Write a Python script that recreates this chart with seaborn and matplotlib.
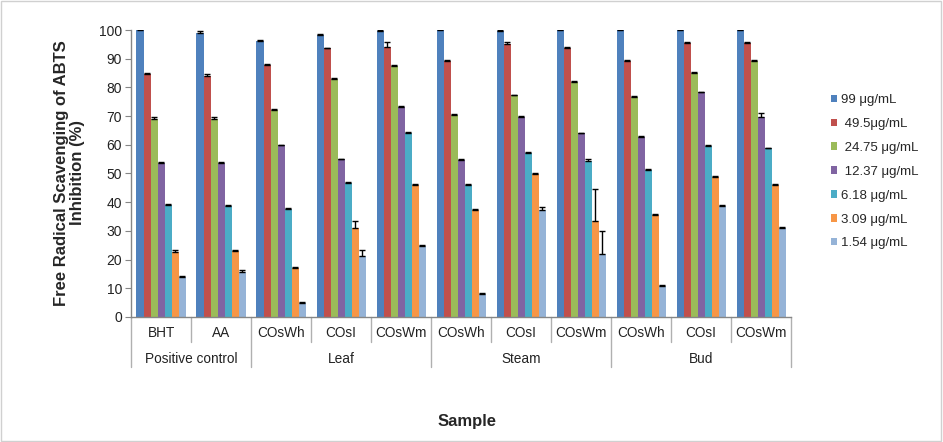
import pandas as pd
import matplotlib
matplotlib.use('Agg')
import matplotlib.pyplot as plt
import seaborn as sns
from matplotlib.patches import Rectangle

# sample labels (level 1) and their groups (level 2)
samples = ["BHT", "AA", "COsWh", "COsI", "COsWm", "COsWh", "COsI", "COsWm", "COsWh", "COsI", "COsWm"]
groups = ["Positive control", "Positive control", "Leaf", "Leaf", "Leaf",
          "Steam", "Steam", "Steam", "Bud", "Bud", "Bud"]
group_names = ["Positive control", "Leaf", "Steam", "Bud"]

concentrations = ["99 μg/mL", " 49.5μg/mL", " 24.75 μg/mL", " 12.37 μg/mL",
                  "6.18 μg/mL", "3.09 μg/mL", "1.54 μg/mL"]

# inhibition (%) per concentration, one value per sample
c99 = [100, 98.8, 96.3, 98.3, 99.6, 100, 99.8, 100, 100, 100, 100]
c49 = [84.6, 84.1, 87.8, 93.6, 94.2, 89.2, 95.1, 93.6, 89.2, 95.6, 95.6]
c24 = [69.0, 69.0, 72.1, 83.1, 87.6, 70.3, 77.2, 81.9, 76.7, 84.9, 89.1]
c12 = [53.8, 53.6, 59.8, 54.9, 73.3, 54.7, 69.7, 64.0, 62.8, 78.3, 69.8]
c6 = [38.9, 38.8, 37.5, 46.8, 64.2, 45.9, 57.0, 54.4, 51.2, 59.6, 58.8]
c3 = [22.8, 23.0, 17.0, 30.9, 46.1, 37.4, 49.7, 33.6, 35.5, 48.8, 45.9]
c1 = [13.8, 15.8, 5.0, 21.2, 24.8, 7.9, 37.3, 21.8, 10.8, 38.7, 31.0]

# upper error bars
e99 = [0.3, 1.0, 0.3, 0.4, 0.4, 0.2, 0.3, 0.2, 0.2, 0.6, 0.2]
e49 = [0.3, 0.5, 0.3, 0.3, 1.6, 0.3, 0.8, 0.4, 0.3, 0.3, 0.3]
e24 = [0.6, 0.6, 0.3, 0.2, 0.3, 0.3, 0.2, 0.2, 0.4, 0.4, 0.4]
e12 = [0.3, 0.3, 0.2, 0.3, 0.3, 0.3, 0.4, 0.2, 0.2, 0.2, 1.2]
e6 = [0.3, 0.3, 0.3, 0.2, 0.2, 0.3, 0.5, 0.6, 0.3, 0.2, 0.2]
e3 = [0.5, 0.4, 0.5, 2.6, 0.3, 0.3, 0.4, 10.9, 0.3, 0.3, 0.3]
e1 = [0.5, 0.4, 0.2, 2.1, 0.2, 0.3, 0.9, 8.3, 0.3, 0.2, 0.2]

values = [c99, c49, c24, c12, c6, c3, c1]
errors = [e99, e49, e24, e12, e6, e3, e1]
colors = ["#4F81BD", "#C0504D", "#9BBB59", "#8064A2", "#4BACC6", "#F79646", "#95B3D7"]

keys = [f"{g} {s}" for g, s in zip(groups, samples)]
rows = []
for conc, vals in zip(concentrations, values):
    for k, v in zip(keys, vals):
        rows.append({"key": k, "conc": conc, "value": v})
df = pd.DataFrame(rows)

sns.set_style("white")
plt.rcParams['font.family'] = ['Liberation Sans', 'DejaVu Sans']

fig = plt.figure(figsize=(9.43, 4.42), dpi=100)
ax = fig.add_axes([0.139, 0.283, 0.700, 0.649])

sns.barplot(data=df, x="key", y="value", hue="conc", order=keys, hue_order=concentrations,
            palette=colors, saturation=1, width=0.82, errorbar=None, ax=ax, linewidth=0)

for cont, err in zip(ax.containers, errors):
    xs = [p.get_x() + p.get_width() / 2 for p in cont.patches]
    hs = [p.get_height() for p in cont.patches]
    ax.errorbar(xs, hs, yerr=[[0] * len(err), err], fmt='none', ecolor='black',
                elinewidth=1, capsize=2.2, capthick=1)

ax.set_xlim(-0.5, len(keys) - 0.5)
ax.set_ylim(0, 100)
ax.set_yticks(range(0, 101, 10))
ax.tick_params(axis='y', labelsize=10, length=4, color='#868686', left=True, pad=2.5,
               labelcolor='#222222')
ax.set_xticks([])
ax.set_xlabel("")
ax.set_ylabel("")
for s in ["top", "right"]:
    ax.spines[s].set_visible(False)
for s in ["left", "bottom"]:
    ax.spines[s].set_color('#868686')
    ax.spines[s].set_linewidth(1)

# two-level category axis
trans = ax.get_xaxis_transform()
line_kw = dict(color='#b0b0b0', lw=1, transform=trans, clip_on=False)
for i in range(len(keys) + 1):
    x = i - 0.5
    long_line = i == 0 or i == len(keys) or groups[i] != groups[i - 1]
    ax.plot([x, x], [0, -0.173 if long_line else -0.086], **line_kw)
for i, s in enumerate(samples):
    ax.text(i, -0.056, s, transform=trans, ha='center', va='center', fontsize=9.8,
            color='#222222')
for g in group_names:
    idx = [i for i, gg in enumerate(groups) if gg == g]
    ax.text(sum(idx) / len(idx), -0.146, g, transform=trans, ha='center', va='center',
            fontsize=9.8, color='#222222')

fig.text(0.074, 0.609, "Free Radical Scavenging of ABTS\nInhibition (%)", rotation=90,
         ha='center', va='center', fontsize=12, fontweight='bold', linespacing=1.08)
fig.text(0.495, 0.046, "Sample", ha='center', va='center', fontsize=12, fontweight='bold')

handles, labels = ax.get_legend_handles_labels()
ax.get_legend().remove()
fig.legend(handles, labels, loc='upper left', bbox_to_anchor=(0.881, 0.787), frameon=False,
           fontsize=9.5, handlelength=0.5, handleheight=0.5, handletextpad=0.3,
           labelspacing=0.9, borderpad=0, borderaxespad=0)

fig.patches.append(Rectangle((0.001, 0.002), 0.997, 0.996, transform=fig.transFigure,
                             fill=False, edgecolor='#d0d0d0', lw=1))

fig.savefig("out.png", dpi=100)
